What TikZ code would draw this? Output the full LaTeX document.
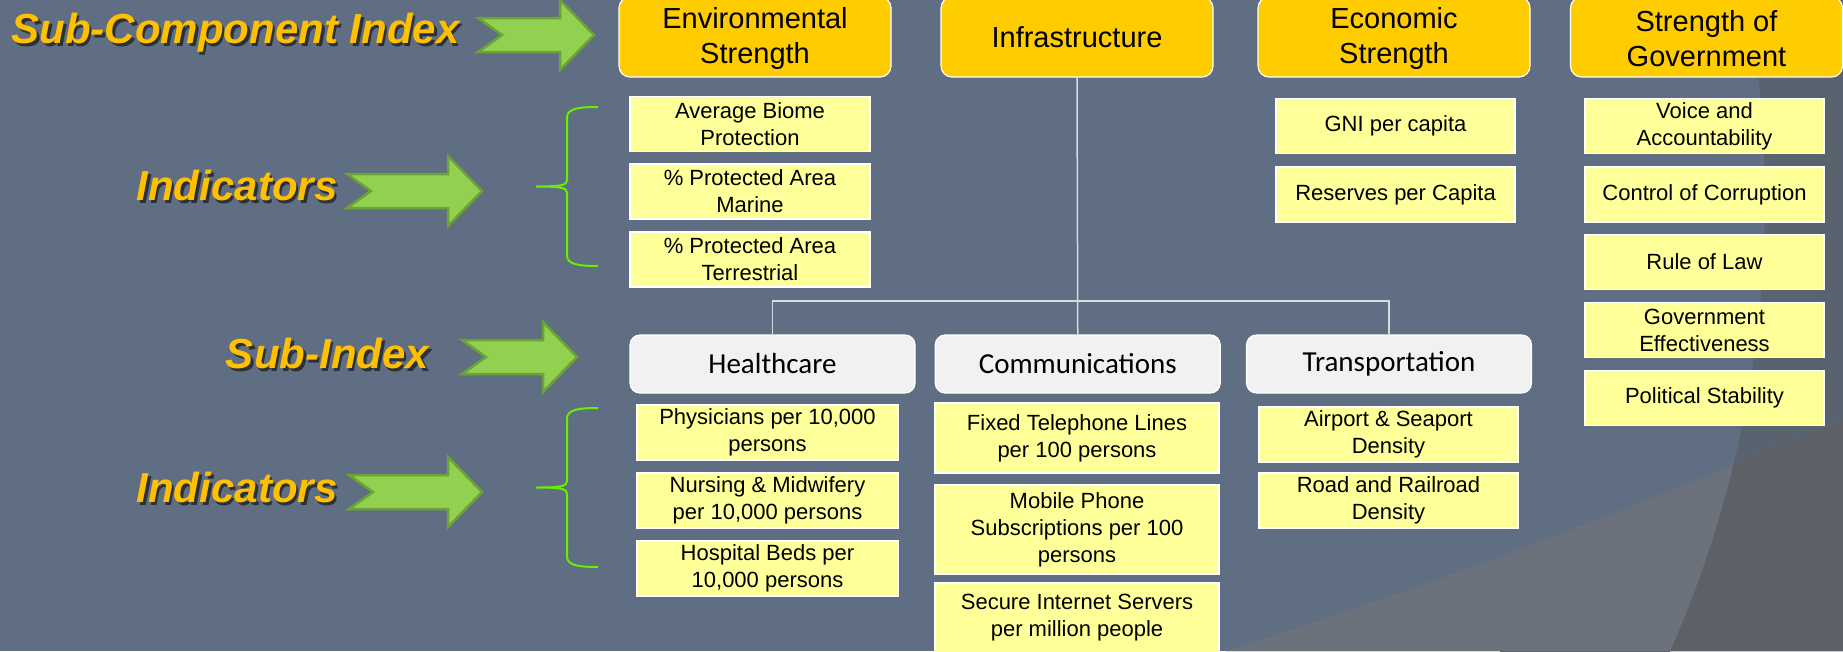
\documentclass[tikz,border=0pt]{standalone}
\usepackage{fontspec}
\setmainfont{Liberation Sans}
\newfontfamily\carlitofont{Carlito}

\definecolor{slidebg}{RGB}{95,110,130}
\definecolor{bandgray}{RGB}{89,99,112}
\definecolor{lowgray}{RGB}{107,114,123}
\definecolor{lowdark}{RGB}{93,97,103}
\definecolor{indexgold}{RGB}{255,204,0}
\definecolor{labelgold}{RGB}{255,192,0}
\definecolor{subgray}{RGB}{241,241,241}
\definecolor{indyellow}{RGB}{255,255,153}
\definecolor{arrowfill}{RGB}{146,208,80}
\definecolor{arrowedge}{RGB}{106,164,52}
\definecolor{bracegreen}{RGB}{102,240,0}
\definecolor{treegray}{RGB}{215,218,222}

\tikzset{
  indexbox/.style={draw=white, line width=1.2pt, fill=indexgold, rounded corners=11pt,
    minimum width=272pt, minimum height=80pt, inner sep=0pt, align=center,
    font=\fontsize{29}{35}\selectfont},
  subbox/.style={draw=white, line width=1.2pt, fill=subgray, rounded corners=10pt,
    minimum width=285pt, minimum height=58pt, inner sep=0pt,
    font=\carlitofont\fontsize{29}{35}\selectfont},
  indbox/.style={draw=white, line width=1.2pt, fill=indyellow, minimum height=55pt,
    inner sep=0pt, align=center, font=\fontsize{22}{27}\selectfont},
  sidelabel/.style={text=labelgold, anchor=base, inner sep=0pt,
    font=\fontsize{42}{50}\selectfont\bfseries\itshape},
  labelshadow/.style={sidelabel, text=black!55!slidebg},
  greenarrow/.style={fill=arrowfill, draw=arrowedge, line width=2.5pt, line join=miter},
  treeline/.style={draw=treegray, line width=1.5pt},
  curlybrace/.pic={
    \draw[bracegreen, line width=2pt] (31,-79.5) .. controls (12,-79.5) and (0,-78) .. (0,-69)
      -- (0,-6) .. controls (0,-1) and (-8,0) .. (-31,0) .. controls (-8,0) and (0,1) .. (0,6)
      -- (0,69) .. controls (0,78) and (12,79.5) .. (31,79.5);
  }
}

% tail x, centre y, length
\newcommand{\notcharrow}[3]{%
  \filldraw[greenarrow] (#1,#2-17) -- ({#1+#3-34},#2-17) -- ({#1+#3-34},#2-35)
    -- ({#1+#3},#2) -- ({#1+#3-34},#2+35) -- ({#1+#3-34},#2+17) -- (#1,#2+17)
    -- ({#1+24},#2) -- cycle;}
\newcommand{\topstrut}{\rule{0pt}{25pt}}

\begin{document}
\begin{tikzpicture}[x=1pt, y=-1pt]
  \useasboundingbox (0,0) rectangle (1843,651);
  \fill[slidebg] (0,0) rectangle (1843,651);

  % slide background swoosh
  \begin{scope}
    \clip (1500,0) rectangle (1843,651);
    \fill[bandgray, even odd rule] (1500,0) rectangle (1843,651) (647,200) circle (1118);
  \end{scope}
  \fill[lowgray] (1226,651) .. controls (1450,580) and (1650,500) .. (1843,420) -- (1843,651) -- cycle;
  \begin{scope}
    \clip (1226,651) .. controls (1450,580) and (1650,500) .. (1843,420) -- (1843,651) -- cycle;
    \fill[lowdark, even odd rule] (1200,300) rectangle (1843,651) (647,200) circle (1118);
  \end{scope}

  % left labels
  \node[labelshadow] (sci-s) at (238,46) {Sub-Component Index};
  \node[sidelabel] (sci) at (235.5,43) {Sub-Component Index};
  \node[labelshadow] (ind1-s) at (239.5,203) {Indicators};
  \node[sidelabel] (ind1) at (237,200) {Indicators};
  \node[labelshadow] (subidx-s) at (330,371) {Sub-Index};
  \node[sidelabel] (subidx) at (327.5,368) {Sub-Index};
  \node[labelshadow] (ind2-s) at (239.5,505) {Indicators};
  \node[sidelabel] (ind2) at (237,502) {Indicators};

  \notcharrow{478}{35}{116}
  \notcharrow{347}{191}{135}
  \notcharrow{462}{357}{115}
  \notcharrow{349}{492}{133}

  \pic at (567,186.5) {curlybrace};
  \pic at (567,487.5) {curlybrace};

  % sub-component indices
  \node[indexbox] (envS) at (755,37) {\topstrut Environmental\\Strength};
  \node[indexbox] (infra) at (1077,37) {Infrastructure};
  \node[indexbox] (econS) at (1394,37) {\topstrut Economic\\Strength};
  \node[indexbox] (govS) at (1706.5,37) {\topstrut Strength of\\Government};

  % sub-indices
  \node[subbox] (hc) at (772.5,364) {Healthcare};
  \node[subbox] (comm) at (1077.75,364) {Communications};
  \node[subbox] (trans) at (1389,364) {Transportation};

  \coordinate (bus) at (0,301);
  \draw[treeline] (infra.south) -- (comm.north);
  \draw[treeline] (hc.north) |- (bus -| trans.north) -- (trans.north);

  % indicators
  \node[indbox, minimum width=240pt] (biome) at (750,124) {Average Biome\\Protection};
  \node[indbox, minimum width=240pt] (marine) at (750,191.5) {\% Protected Area\\Marine};
  \node[indbox, minimum width=240pt] (terr) at (750,259.5) {\% Protected Area\\Terrestrial};

  \node[indbox, minimum width=239pt] (gni) at (1395.5,126) {GNI per capita};
  \node[indbox, minimum width=239pt] (reserves) at (1395.5,194.5) {Reserves per Capita};

  \node[indbox, minimum width=239pt] (voice) at (1704.5,126) {Voice and\\Accountability};
  \node[indbox, minimum width=239pt] (corrupt) at (1704.5,194.5) {Control of Corruption};
  \node[indbox, minimum width=239pt] (law) at (1704.5,262) {Rule of Law};
  \node[indbox, minimum width=239pt] (goveff) at (1704.5,330) {Government\\Effectiveness};
  \node[indbox, minimum width=239pt] (polstab) at (1704.5,398) {Political Stability};

  \node[indbox, minimum width=261pt] (phys) at (767.5,432.5) {Physicians per 10,000\\persons};
  \node[indbox, minimum width=261pt] (nurse) at (767.5,500.5) {Nursing \& Midwifery\\per 10,000 persons};
  \node[indbox, minimum width=261pt] (beds) at (767.5,568.5) {Hospital Beds per\\10,000 persons};

  \node[indbox, minimum width=284pt, minimum height=70pt] (fixed) at (1077,438) {Fixed Telephone Lines\\per 100 persons};
  \node[indbox, minimum width=284pt, minimum height=89pt] (mobile) at (1077,529.5) {Mobile Phone\\Subscriptions per 100\\persons};
  \node[indbox, minimum width=284pt, minimum height=70pt] (secure) at (1077,618) {Secure Internet Servers\\per million people};

  \node[indbox, minimum width=259pt] (airport) at (1388.5,434.5) {Airport \& Seaport\\Density};
  \node[indbox, minimum width=259pt] (road) at (1388.5,500.5) {Road and Railroad\\Density};
\end{tikzpicture}
\end{document}
